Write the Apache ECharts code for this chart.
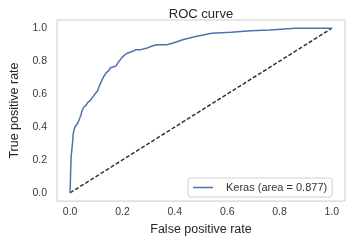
<!DOCTYPE html>
<html>
<head>
<meta charset="utf-8">
<script src="https://cdn.jsdelivr.net/npm/echarts@6/dist/echarts.min.js"></script>
<style>
  html, body { margin: 0; padding: 0; background: #fff; }
  #chart { width: 356px; height: 241px; }
</style>
</head>
<body>
<div id="chart"></div>
<script>
var fpr = [0, 0.002, 0.004, 0.006, 0.009, 0.012, 0.016, 0.018, 0.021, 0.028, 0.031, 0.036,
           0.041, 0.046, 0.052, 0.060, 0.068, 0.076, 0.086, 0.095, 0.105, 0.112, 0.123,
           0.130, 0.138, 0.146, 0.154, 0.165, 0.175, 0.180, 0.187, 0.197, 0.210, 0.221,
           0.240, 0.252, 0.270, 0.295, 0.310, 0.332, 0.369, 0.394, 0.430, 0.480, 0.541,
           0.615, 0.689, 0.763, 0.861, 1.0];
var tpr = [0, 0.13, 0.22, 0.25, 0.30, 0.36, 0.37, 0.40, 0.41, 0.42, 0.43, 0.45,
           0.47, 0.50, 0.52, 0.53, 0.55, 0.56, 0.58, 0.60, 0.62, 0.65, 0.69,
           0.71, 0.73, 0.74, 0.76, 0.765, 0.77, 0.78, 0.80, 0.82, 0.84, 0.85,
           0.86, 0.87, 0.87, 0.88, 0.89, 0.90, 0.90, 0.91, 0.93, 0.95, 0.97,
           0.975, 0.985, 0.99, 1.0, 1.0];
var chanceLine = [[0, 0], [1, 1]];
var tickValues = [0, 0.2, 0.4, 0.6, 0.8, 1.0];

var font = 'Liberation Sans, Arial, sans-serif';
var rocData = fpr.map(function(x, i) { return [x, tpr[i]]; });

var myChart = echarts.init(document.getElementById('chart'));
var option = {
    animation: false,
    title: {
        text: 'ROC curve',
        left: 196,
        textAlign: 'center',
        top: 3,
        textStyle: { fontFamily: font, fontSize: 13, fontWeight: 'normal', color: '#262626' }
    },
    legend: {
        data: ['Keras (area = 0.877)'],
        left: 188,
        top: 178,
        icon: 'rect',
        itemWidth: 20,
        itemHeight: 1.5,
        padding: [4, 5, 4, 5],
        borderColor: '#d0d0d0',
        borderWidth: 1,
        borderRadius: 3,
        backgroundColor: '#fff',
        textStyle: { fontFamily: font, fontSize: 11, color: '#333333', padding: [0, 0, 0, 8] }
    },
    grid: {
        left: 47,
        top: 20,
        width: 298,
        height: 182,
        show: true,
        borderColor: '#cccccc',
        borderWidth: 1
    },
    xAxis: {
        type: 'value',
        min: -0.05,
        max: 1.05,
        name: 'False positive rate',
        nameLocation: 'middle',
        nameGap: 21,
        nameTextStyle: { fontFamily: font, fontSize: 12.5, color: '#262626' },
        axisLine: { show: false },
        axisTick: { show: false },
        splitLine: { show: false },
        axisLabel: {
            customValues: tickValues,
            formatter: function(v) { return v.toFixed(1); },
            margin: 6,
            fontFamily: font, fontSize: 10.5, color: '#3a3a3a'
        }
    },
    yAxis: {
        type: 'value',
        min: -0.05,
        max: 1.05,
        name: 'True positive rate',
        nameLocation: 'middle',
        nameGap: 36,
        nameTextStyle: { fontFamily: font, fontSize: 12.5, color: '#262626' },
        axisLine: { show: false },
        axisTick: { show: false },
        splitLine: { show: false },
        axisLabel: {
            customValues: tickValues,
            formatter: function(v) { return v.toFixed(1); },
            margin: 10,
            fontFamily: font, fontSize: 10.5, color: '#3a3a3a'
        }
    },
    series: [
        {
            name: 'chance',
            type: 'line',
            data: chanceLine,
            symbol: 'none',
            lineStyle: { color: '#333333', width: 1.5, type: [4, 2] }
        },
        {
            name: 'Keras (area = 0.877)',
            type: 'line',
            data: rocData,
            symbol: 'none',
            itemStyle: { color: '#4c72b0' },
            lineStyle: { color: '#4c72b0', width: 1.5 }
        }
    ]
};
myChart.setOption(option);
</script>
</body>
</html>
